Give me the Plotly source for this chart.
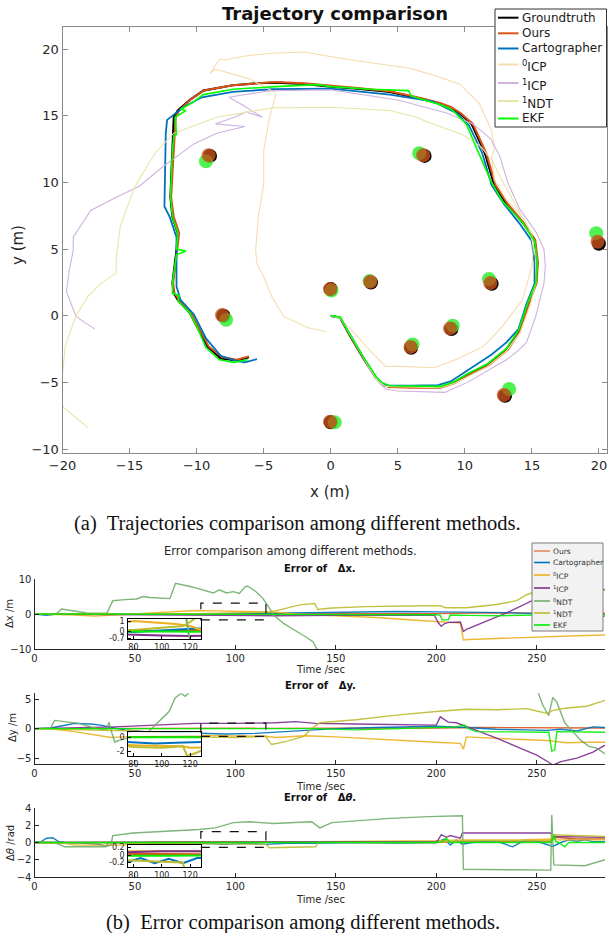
import plotly.graph_objects as go

W, H = 609, 933

# ---------------- trajectories (metres) ----------------
gt_x = [0, 0.7, 1.5, 2.5, 3.4, 3.9, 4.4, 6.0, 8.2, 9.2, 10.2, 11.7, 13.1, 14.0, 14.7, 15.3, 15.4, 15.2, 14.4, 13.1, 12.2, 11.5,
        10.5, 9.6, 8.9, 8.2, 6.7, 4.4, 2.0, 0.0, -2.0, -4.1, -5.5, -7.3, -9.5, -10.5, -11.4, -11.7, -11.8, -11.95, -11.8,
        -11.4, -11.5, -11.8, -11.7, -11.4, -10.5, -9.9, -9.2, -8.2, -7.0, -6.1]
gt_y = [0, -0.15, -1.6, -3.3, -4.7, -5.2, -5.32, -5.35, -5.35, -5.0, -4.4, -3.7, -2.55, -1.2, 0.95, 2.45, 4.0, 5.7, 6.9, 8.4,
        9.8, 12.2, 14.4, 15.2, 15.6, 15.9, 16.3, 16.8, 17.05, 17.2, 17.4, 17.5, 17.45, 17.3, 16.9, 16.2, 15.4, 14.9, 12.4,
        8.9, 7.4, 6.2, 4.9, 2.45, 1.7, 1.2, 0.2, -1.0, -2.3, -3.2, -3.35, -3.1]

ours_x = [0, 0.7, 1.5, 2.5, 3.4, 3.9, 4.4, 6.0, 8.2, 9.25, 10.3, 11.8, 13.2, 14.1, 14.8, 15.35, 15.45, 15.25, 14.45, 13.2,
          12.3, 11.6, 10.6, 9.7, 9.0, 8.2, 6.7, 4.4, 2.0, 0.0, -2.0, -4.1, -5.5, -7.3, -9.5, -10.5, -11.3, -11.55, -11.7,
          -11.9, -11.7, -11.3, -11.45, -11.75, -11.65, -11.3, -10.4, -9.8, -9.1, -8.1, -7.0, -6.1]
ours_y = [0, -0.15, -1.6, -3.3, -4.7, -5.2, -5.35, -5.4, -5.4, -5.05, -4.45, -3.7, -2.55, -1.2, 0.95, 2.45, 4.0, 5.7, 6.9,
          8.4, 9.8, 12.2, 14.4, 15.2, 15.65, 15.95, 16.35, 16.85, 17.1, 17.25, 17.45, 17.55, 17.45, 17.3, 16.9, 16.2, 15.4,
          14.9, 12.4, 8.9, 7.4, 6.2, 4.9, 2.45, 1.7, 1.2, 0.2, -1.0, -2.3, -3.1, -3.3, -3.05]

carto_x = [0, 0.7, 1.6, 2.6, 3.5, 4.1, 6.0, 8.0, 9.0, 10.5, 12.0, 13.1, 14.0, 14.6, 15.2, 15.2, 15.0, 14.1, 12.9, 12.0, 11.3,
           10.3, 9.4, 7.6, 4.4, 0.0, -4.4, -7.3, -9.6, -10.9, -12.2, -12.3, -12.35, -12.4, -12.0, -11.5, -11.5, -11.5,
           -11.2, -10.2, -9.3, -8.2, -7.0, -6.4, -5.5]
carto_y = [0, -0.15, -1.7, -3.4, -4.8, -5.25, -5.25, -5.2, -4.9, -3.9, -2.9, -2.0, -1.0, 0.9, 2.4, 4.0, 5.6, 6.9, 8.4, 9.8,
           12.2, 14.3, 15.2, 16.1, 16.6, 17.05, 17.0, 16.8, 16.4, 15.7, 14.7, 13.7, 10.5, 8.2, 7.4, 5.9, 4.2, 2.2, 1.2, 0.1,
           -1.7, -3.0, -3.4, -3.5, -3.25]

icp0_x = [0, 0.7, 2.0, 3.0, 4.1, 5.2, 7.7, 9.3, 11.4, 12.8, 14.3, 15.0, 15.1, 15.0, 14.3, 13.1, 12.2, 12.0, 12.2, 12.0, 11.1,
          9.6, 7.5, 5.8, 1.5, -2.0, -4.4, -6.4, -7.9, -8.3, -9.0, -8.6, -6.1, -4.2, -4.1, -4.6, -5.0, -5.0, -5.4, -5.6,
          -5.5, -5.0, -4.4, -3.5, -1.7, -0.3]
icp0_y = [0, -0.2, -1.55, -2.7, -3.8, -3.8, -3.9, -3.3, -2.3, -0.8, 1.2, 3.7, 5.0, 6.2, 7.4, 8.7, 10.2, 11.8, 12.7, 13.9,
          15.9, 17.4, 18.1, 18.6, 19.2, 19.8, 19.7, 19.5, 19.2, 19.25, 18.2, 18.5, 17.8, 16.8, 16.6, 14.7, 12.4, 9.9, 7.4,
          4.9, 3.9, 2.95, 1.45, -0.05, -0.9, -1.2]

icp1_x = [0, 0.8, 1.8, 2.9, 3.6, 4.1, 5.0, 7.3, 8.5, 10.2, 11.7, 13.1, 14.0, 14.6, 15.3, 15.9, 16.0, 15.9, 15.3, 14.1, 13.2,
          12.6, 11.9, 10.6, 8.7, 5.0, 0.0, -4.5, -7.6, -6.7, -5.1, -6.3, -7.2, -8.6, -6.4, -8.5, -10.2, -12.5, -14.3,
          -16.0, -17.9, -19.2, -19.2, -19.5, -19.7, -19.0, -17.6]
icp1_y = [0, -0.2, -2.0, -4.0, -5.0, -5.5, -5.65, -5.75, -5.75, -5.0, -4.1, -3.3, -2.6, -2.0, 0.0, 2.45, 3.7, 5.0, 6.3, 8.0,
          10.0, 12.0, 13.3, 14.4, 15.2, 16.2, 16.95, 16.9, 16.4, 15.9, 14.9, 15.3, 14.9, 14.4, 14.2, 13.7, 12.9, 11.2, 9.7,
          8.9, 7.9, 5.9, 4.9, 3.4, 1.8, -0.05, -1.0]

ndt1_x = [0, 0.7, 1.6, 2.6, 3.5, 4.1, 6.0, 8.2, 9.3, 11.7, 13.1, 14.1, 14.9, 15.3, 15.3, 14.8, 13.8, 12.7, 12.0, 11.2, 9.8,
          7.9, 6.9, 7.6, 6.4, 4.4, 0.0, -4.4, -8.5, -11.7, -13.1, -14.6, -15.7, -16.0, -16.0, -17.1, -18.1, -19.0, -19.8,
          -20.1, -20.0, -18.1]
ndt1_y = [0, -0.15, -1.7, -3.4, -4.9, -5.3, -5.35, -5.4, -5.05, -3.8, -2.65, -1.3, 0.9, 2.45, 4.5, 6.5, 8.3, 10.3, 11.7,
          12.7, 13.6, 14.3, 14.65, 14.4, 14.9, 15.4, 15.65, 15.6, 14.9, 13.7, 12.2, 9.7, 6.7, 4.2, 3.2, 2.45, 1.45, 0.0,
          -2.3, -5.5, -6.8, -8.4]

ekf_x = [0, 0.7, 1.5, 2.5, 3.4, 3.8, 4.4, 8.2, 9.2, 10.2, 11.7, 13.1, 14.0, 14.7, 15.3, 15.4, 15.2, 14.3, 12.8, 11.9, 11.0,
         10.1, 9.0, 8.3, 6.6, 6.0, 5.8, 3.0, 0.0, -1.0, -4.1, -7.3, -9.5, -10.3, -11.2, -10.8, -11.6, -11.5, -11.7, -11.8,
         -11.95, -11.8, -11.4, -11.5, -10.8, -11.5, -11.8, -11.8, -11.3, -11.4, -10.5, -9.9, -9.3, -8.3, -7.2, -6.2]
ekf_y = [0, -0.1, -1.5, -3.2, -4.6, -5.0, -5.25, -5.3, -4.95, -4.35, -3.6, -2.45, -1.1, 1.0, 2.5, 4.0, 5.6, 7.0, 8.6, 10.2,
         12.3, 14.4, 15.5, 15.8, 16.3, 16.5, 16.9, 17.0, 17.2, 17.35, 17.2, 17.0, 16.6, 16.0, 15.5, 15.4, 14.9, 13.6, 13.5,
         12.4, 9.0, 7.4, 6.2, 5.0, 4.85, 4.6, 2.45, 1.7, 1.5, 1.1, 0.2, -1.0, -2.4, -3.3, -3.5, -3.3]

# landmarks
lm_gt_x = [-9.0, 7.0, 20.0, -8.0, 0.0, 3.0, 12.0, 9.0, 6.0, 13.0, 0.0]
lm_gt_y = [12.0, 12.0, 5.4, 0.0, 2.0, 2.5, 2.4, -1.0, -2.4, -6.0, -8.0]
lm_ours_x = [-9.1, 6.9, 19.9, -8.1, -0.05, 2.95, 11.9, 8.9, 5.95, 12.9, -0.05]
lm_ours_y = [12.05, 12.05, 5.55, 0.05, 2.0, 2.55, 2.45, -0.95, -2.35, -5.95, -7.95]
lm_ekf_x = [-9.3, 6.6, 19.8, -7.8, 0.05, 2.9, 11.8, 9.1, 6.1, 13.3, 0.3]
lm_ekf_y = [11.6, 12.2, 6.2, -0.3, 1.9, 2.6, 2.75, -0.75, -2.15, -5.5, -8.0]

# ---------------- error curves ----------------
# Δx (m)
ours_dx_t = [0, 20, 50, 80, 100, 130, 160, 200, 215, 230, 250, 284]
ours_dx = [0, 0.05, 0.1, 0.05, 0.0, 0.1, 0.05, 0.1, 0.3, 0.35, 0.2, 0.2]
carto_dx_t = [0, 3, 6, 10, 20, 40, 60, 80, 100, 120, 150, 180, 200, 220, 235, 250, 265, 280, 284]
carto_dx = [0, -0.3, -0.4, -0.1, 0, 0.05, 0.0, -0.1, 0.05, 0.2, 0.5, 0.7, 0.6, 0.6, 0.4, 0.1, -0.2, -0.5, -0.6]
icp0_dx_t = [0, 10, 20, 30, 40, 50, 60, 70, 80, 90, 100, 110, 120, 130, 150, 170, 190, 200, 205, 212, 213.5, 216, 230, 250,
             270, 284]
icp0_dx = [0, -0.1, -0.3, -0.6, -0.3, 0.2, 0.5, 0.8, 1.0, 0.9, 0.8, 0.7, 0.5, 0.0, -0.5, -1.0, -1.8, -2.2, -2.3, -2.6,
           -7.4, -7.3, -7.0, -6.5, -6.2, -6.0]
icp1_dx_t = [0, 20, 40, 60, 80, 100, 120, 150, 180, 199, 201, 202.5, 204, 206, 212, 213.5, 215, 225, 235, 248, 260, 284]
icp1_dx = [0, -0.1, -0.2, -0.3, -0.4, -0.45, -0.5, -0.4, -0.3, -0.3, -2.5, -3.5, -2.8, -2.4, -2.3, -5.0, -4.4, -2.0, 0.3,
           3.9, 5.5, 7.0]
ndt0_dx_t = [0, 11, 13.5, 20, 26, 36, 39, 45, 50.8, 54, 57.5, 67.4, 70.2, 78, 89, 92, 95.6, 99, 102, 104.7, 106, 110, 113.8,
             117, 119, 124, 129, 132, 135, 138.6, 140.4, 142]
ndt0_dx = [0, 0.1, 1.4, 0.9, 0.3, 0.2, 3.8, 4.1, 4.3, 5.0, 4.7, 4.4, 8.8, 7.8, 6.0, 6.9, 6.0, 6.4, 5.9, 7.7, 8.0, 6.5, 4.4,
           1.6, -0.3, -2.7, -4.6, -5.5, -6.5, -7.9, -9.8, -11.0]
ndt1_dx_t = [0, 20, 40, 60, 80, 100, 115, 120, 132, 139.5, 141, 148, 165, 185, 202, 204.5, 215, 230, 240, 245, 250, 265, 284]
ndt1_dx = [0, 0.1, 0.15, 0.1, 0.1, 0.3, 0.5, 0.9, 2.6, 3.0, 1.3, 1.7, 2.1, 2.3, 2.4, 1.8, 1.8, 2.7, 3.8, 5.5, 6.5, 7.0, 6.8]
ekf_dx_t = [0, 50, 100, 150, 200, 202, 203, 206, 207, 215, 230, 250, 284]
ekf_dx = [0, 0, -0.05, -0.1, -0.2, -0.4, -1.7, -1.6, -0.3, -0.4, -0.5, -0.3, -0.2]

# Δy (m)
ours_dy_t = [0, 50, 100, 150, 200, 220, 240, 260, 284]
ours_dy = [0, 0, 0, 0.05, 0.1, 0.2, 0.15, 0.1, 0.1]
carto_dy_t = [0, 8, 14, 20, 28, 33, 38, 45, 55, 65, 80, 95, 110, 120, 135, 150, 170, 200, 215, 230, 245, 255, 262, 270, 278,
              284]
carto_dy = [0, 0.1, 0.5, 0.9, 0.8, 0.6, 0.2, -0.2, -0.5, -0.6, -0.8, -0.9, -0.8, -0.6, -0.3, 0, 0.2, 0.4, 0.2, -0.1, -0.2,
            -0.3, -0.1, -0.4, 0.3, 0.2]
icp0_dy_t = [0, 10, 20, 30, 38, 45, 55, 70, 85, 100, 115, 120, 135, 150, 175, 200, 212, 213.5, 215, 220, 240, 255, 265,
             275, 284]
icp0_dy = [0, -0.1, -0.5, -1.0, -1.5, -1.4, -1.2, -1.1, -1.2, -1.3, -1.3, -1.5, -1.2, -1.4, -1.9, -2.3, -2.5, -3.5, -1.4,
           -1.5, -1.8, -2.0, -2.4, -2.3, -2.3]
icp1_dy_t = [0, 20, 40, 60, 80, 100, 120, 130, 140, 160, 185, 200, 202, 204, 206, 210, 215, 220, 230, 240, 250, 256, 258,
             262, 270, 278, 284]
icp1_dy = [0, 0.1, 0.3, 0.6, 0.9, 0.9, 1.0, 1.2, 0.9, 0.8, 0.7, 0.6, 2.0, 1.5, 1.1, 1.0, 0.4, -0.3, -1.6, -3.0, -4.5,
           -5.7, -6.2, -5.6, -5.0, -4.0, -2.8]
ndt0_dy_t = [0, 8, 10, 16, 22, 29, 32, 36, 37, 38, 40, 42, 49, 55, 61, 67, 70, 73, 75, 77, 79, 250, 253, 256, 258, 260,
             264, 268, 272, 276, 280, 284]
ndt0_dy = [0, 0.1, 1.4, 1.1, 0.9, 0.2, 0.0, -0.3, 1.1, -0.2, -2.3, -2.0, -1.4, -1.1, 0.9, 2.9, 5.2, 6.0, 5.5, 6.1, 6.8,
           6.8, 4.0, 2.2, 5.3, 4.5, 1.0, -0.5, -2.0, -3.0, -3.3, -4.3]
ndt1_dy_t = [0, 50, 80, 100, 115, 118, 125, 134, 138, 142, 160, 180, 200, 215, 230, 245, 250, 255, 258, 265, 275, 284]
ndt1_dy = [0, -0.4, -1.4, -1.5, -1.3, -2.7, -2.2, -1.3, 0.0, 1.0, 1.5, 2.3, 2.9, 3.3, 3.2, 3.4, 3.0, 2.6, 3.1, 3.5, 3.8, 4.8]
ekf_dy_t = [0, 100, 140, 160, 200, 210, 214, 216, 220, 240, 256, 257.5, 259, 260, 270, 284]
ekf_dy = [0, 0, 0, -0.2, 0.2, 0.3, 0.6, 0.0, -0.5, -0.5, -0.6, -3.8, -3.6, -0.5, -0.5, -0.6]

# Δθ (rad)
ours_dth_t = [0, 50, 100, 150, 200, 213, 240, 257, 259, 270, 284]
ours_dth = [0, 0.03, 0.03, 0.02, 0, 0.1, 0.1, 0.1, 0.6, 0.4, 0.4]
carto_dth_t = [0, 3, 6, 9, 12, 15, 25, 32, 35.6, 37, 45, 55, 65, 75, 85, 95, 105, 115, 125, 140, 160, 180, 200, 204, 207,
               210, 213, 218, 225, 232, 238, 242, 246, 252, 258, 262, 266, 270, 274, 278, 284]
carto_dth = [0, 0.05, 0.5, 0.55, 0.1, 0, -0.1, -0.2, -0.45, 0, -0.1, -0.2, -0.05, -0.2, -0.08, -0.22, -0.1, -0.22, -0.08,
             -0.1, 0, -0.05, 0, 0.4, -0.3, 0.3, -0.2, 0, 0.1, 0, -0.5, 0, 0.3, 0, -0.45, 0, 0.3, 0.15, 0.3, 0.1, 0.1]
icp0_dth_t = [0, 15, 20, 45, 50, 60, 100, 140, 200, 213, 240, 258, 260, 284]
icp0_dth = [0, -0.1, -0.3, -0.3, -0.1, 0.1, 0.1, 0.1, 0.2, 0.3, 0.3, 0.4, 0.3, 0.3]
icp1_dth_t = [0, 50, 100, 150, 200, 201, 202.5, 205, 207, 212, 213, 257, 258, 284]
icp1_dth = [0, 0.05, 0.1, 0.1, 0.1, 0.3, 0.9, 0.6, 0.8, 0.5, 1.1, 1.1, 0.7, 0.6]
ndt0_dth_t = [0, 10, 15, 35, 38, 39, 49, 65, 82, 90, 99, 107, 119, 138, 142, 148, 177, 196, 213, 213.5, 239, 257, 257.5,
              258.5, 274, 284]
ndt0_dth = [0, 0, -0.5, -0.5, -0.3, 0.8, 1.1, 1.3, 1.5, 1.7, 2.3, 2.4, 2.2, 2.4, 1.7, 2.3, 2.8, 3.0, 3.1, -3.1, -3.2, -3.2,
            3.2, -2.6, -2.7, -2.0]
ndt1_dth_t = [0, 50, 100, 115, 117, 140, 141, 200, 213, 257, 258, 284]
ndt1_dth = [0, -0.1, -0.18, -0.2, -0.6, -0.5, 0, 0, 0.2, 0.2, 0.9, 0.7]
ekf_dth_t = [0, 100, 200, 203, 205, 207, 210, 257, 258.5, 259.5, 261, 264, 266, 284]
ekf_dth = [0, -0.02, 0, 0.1, 0.5, 0, 0, 0, 0.9, 0.1, 0, -0.5, 0, 0]

# ---------------- styling ----------------
FONT = "DejaVu Sans"
SERIF = "Liberation Serif"
C_OURS, C_CARTO, C_ICP0, C_ICP1 = "#D95319", "#0072BD", "#EDB120", "#7E2F8E"
C_NDT0, C_NDT1, C_EKF = "#6fae6a", "#bdbb2e", "#00ee00"
T_ICP0, T_ICP1, T_NDT1 = "#f6dcae", "#cfb2de", "#e8e6a8"


def fx(p):
    return p / W


def fy(p):
    return 1 - p / H


fig = go.Figure()

# trajectory plot
traj = [
    (gt_x, gt_y, "#000000", 2.2),
    (ours_x, ours_y, C_OURS, 2.0),
    (carto_x, carto_y, C_CARTO, 1.8),
    (icp0_x, icp0_y, T_ICP0, 1.1),
    (icp1_x, icp1_y, T_ICP1, 1.1),
    (ndt1_x, ndt1_y, T_NDT1, 1.1),
    (ekf_x, ekf_y, "#00ff00", 1.6),
]
for xs, ys, col, w in traj:
    fig.add_trace(go.Scatter(x=xs, y=ys, mode="lines", line=dict(color=col, width=w),
                             xaxis="x", yaxis="y", showlegend=False))
fig.add_trace(go.Scatter(x=lm_gt_x, y=lm_gt_y, mode="markers", xaxis="x", yaxis="y", showlegend=False,
                         marker=dict(size=14, color="#000000", line=dict(width=0))))
fig.add_trace(go.Scatter(x=lm_ekf_x, y=lm_ekf_y, mode="markers", xaxis="x", yaxis="y", showlegend=False,
                         marker=dict(size=14, color="#33ee33", opacity=0.85, line=dict(width=0))))
fig.add_trace(go.Scatter(x=lm_ours_x, y=lm_ours_y, mode="markers", xaxis="x", yaxis="y", showlegend=False,
                         marker=dict(size=14, color="#c8501c", opacity=0.8, line=dict(width=0))))

# error plots: (main axis id, inset axis id, series)
panels = [
    ("2", "5", [(ours_dx_t, ours_dx, C_OURS), (carto_dx_t, carto_dx, C_CARTO), (icp0_dx_t, icp0_dx, C_ICP0),
                (icp1_dx_t, icp1_dx, C_ICP1), (ndt0_dx_t, ndt0_dx, C_NDT0), (ndt1_dx_t, ndt1_dx, C_NDT1),
                (ekf_dx_t, ekf_dx, C_EKF)]),
    ("3", "6", [(ours_dy_t, ours_dy, C_OURS), (carto_dy_t, carto_dy, C_CARTO), (icp0_dy_t, icp0_dy, C_ICP0),
                (icp1_dy_t, icp1_dy, C_ICP1), (ndt0_dy_t, ndt0_dy, C_NDT0), (ndt1_dy_t, ndt1_dy, C_NDT1),
                (ekf_dy_t, ekf_dy, C_EKF)]),
    ("4", "7", [(ours_dth_t, ours_dth, C_OURS), (carto_dth_t, carto_dth, C_CARTO), (icp0_dth_t, icp0_dth, C_ICP0),
                (icp1_dth_t, icp1_dth, C_ICP1), (ndt0_dth_t, ndt0_dth, C_NDT0), (ndt1_dth_t, ndt1_dth, C_NDT1),
                (ekf_dth_t, ekf_dth, C_EKF)]),
]
for main_id, inset_id, series in panels:
    for t, v, col in series:
        fig.add_trace(go.Scatter(x=t, y=v, mode="lines", line=dict(color=col, width=1.4), opacity=0.9,
                                 xaxis="x" + main_id, yaxis="y" + main_id, showlegend=False))
    for t, v, col in series:
        fig.add_trace(go.Scatter(x=t, y=v, mode="lines", line=dict(color=col, width=2.0),
                                 xaxis="x" + inset_id, yaxis="y" + inset_id, showlegend=False))

# ---------------- axes ----------------
top_axis = dict(showline=True, linecolor="#8a8a8a", linewidth=1, mirror="ticks", ticks="inside", ticklen=5,
                tickcolor="#8a8a8a", showgrid=False, zeroline=False, automargin=False,
                tickfont=dict(family=FONT, size=13, color="#262626"))
layout_axes = dict(
    xaxis=dict(top_axis, domain=[fx(62.5), fx(607)], range=[-20, 20.6], tickvals=list(range(-20, 21, 5)),
               anchor="y"),
    yaxis=dict(top_axis, domain=[fy(453), fy(27.3)], range=[-10.3, 21.65], tickvals=list(range(-10, 21, 5)),
               anchor="x"),
)

bot_x = dict(showline=True, linecolor="#262626", linewidth=1.2, ticks="inside", ticklen=4, tickcolor="#262626",
             showgrid=False, zeroline=False, automargin=False, tickfont=dict(family=FONT, size=10, color="#262626"),
             domain=[fx(34.5), fx(605)], range=[0, 284], tickvals=[0, 50, 100, 150, 200, 250])
bot_y = dict(showline=True, linecolor="#262626", linewidth=1.2, ticks="inside", ticklen=4, tickcolor="#262626",
             showgrid=False, zeroline=False, automargin=False, tickfont=dict(family=FONT, size=10, color="#262626"))
main_specs = [("2", [fy(649), fy(579)], [-10, 10], [-10, 0, 10]),
              ("3", [fy(764), fy(693.3)], [-6, 6], [-5, 0, 5]),
              ("4", [fy(877), fy(808)], [-4, 4], [-4, -2, 0, 2, 4])]
for aid, dom, rng, tv in main_specs:
    layout_axes["xaxis" + aid] = dict(bot_x, anchor="y" + aid)
    layout_axes["yaxis" + aid] = dict(bot_y, domain=dom, range=rng, tickvals=tv, anchor="x" + aid)

inset_ax = dict(showline=True, linecolor="#000000", linewidth=1.4, mirror=True, ticks="inside", ticklen=3,
                tickcolor="#000000", showgrid=False, zeroline=False, automargin=False,
                tickfont=dict(family=FONT, size=8, color="#262626"))
inset_specs = [("5", [fy(639), fy(619)], [-0.8, 1.2], [-0.7, 0, 1], ["-0.7", "0", "1"]),
               ("6", [fy(756), fy(732.3)], [-2.7, 0.7], [-2, 0], ["-2", "0"]),
               ("7", [fy(867), fy(845)], [-0.32, 0.27], [-0.2, 0, 0.2], ["-0.2", "0", "0.2"])]
for aid, dom, rng, tv, tt in inset_specs:
    layout_axes["xaxis" + aid] = dict(inset_ax, domain=[fx(127.5), fx(201)], range=[75.8, 127.7],
                                      tickvals=[80, 100, 120], anchor="y" + aid)
    layout_axes["yaxis" + aid] = dict(inset_ax, domain=dom, range=rng, tickvals=tv, ticktext=tt, anchor="x" + aid)

# ---------------- shapes ----------------
shapes = []
# dashed zoom windows
for aid, y0, y1 in [("2", -1.7, 3.1), ("3", -1.3, 0.95), ("4", -0.57, 1.26)]:
    shapes.append(dict(type="rect", xref="x" + aid, yref="y" + aid, x0=82.8, x1=115.2, y0=y0, y1=y1,
                       line=dict(color="#111111", width=1.2, dash="dash")))

annotations = []


def text(x, y, s, size, family=FONT, color="#262626", bold=False, angle=0, xanchor="center"):
    annotations.append(dict(xref="paper", yref="paper", x=fx(x), y=fy(y), text=("<b>%s</b>" % s) if bold else s,
                            showarrow=False, font=dict(family=family, size=size, color=color), textangle=angle,
                            xanchor=xanchor, yanchor="middle"))


# top legend
shapes.append(dict(type="rect", xref="paper", yref="paper", x0=fx(495), x1=fx(606.5), y0=fy(127), y1=fy(9),
                   line=dict(color="#333333", width=1), fillcolor="#ffffff", layer="above"))
top_leg = [("Groundtruth", "#000000", 17.7), ("Ours", C_OURS, 33.3), ("Cartographer", C_CARTO, 48.5),
           ("<sup>0</sup>ICP", T_ICP0, 64.5), ("<sup>1</sup>ICP", T_ICP1, 83), ("<sup>1</sup>NDT", T_NDT1, 101),
           ("EKF", "#00ff00", 118.5)]
for lab, col, yy in top_leg:
    shapes.append(dict(type="line", xref="paper", yref="paper", x0=fx(498), x1=fx(518.5), y0=fy(yy), y1=fy(yy),
                       line=dict(color=col, width=2), layer="above"))
    yt = yy + 1.5 if "sup" in lab else yy
    text(519.5, yt, lab, 12, xanchor="left", color="#1a1a1a")

# bottom legend
shapes.append(dict(type="rect", xref="paper", yref="paper", x0=fx(532), x1=fx(603), y0=fy(631), y1=fy(543),
                   line=dict(color="#7a7a7a", width=1), fillcolor="#f2f2f2", layer="above"))
bot_leg = [("Ours", "#e58a63", 551), ("Cartographer", C_CARTO, 562.5), ("<sup>0</sup>ICP", C_ICP0, 575),
           ("<sup>1</sup>ICP", C_ICP1, 588), ("<sup>0</sup>NDT", C_NDT0, 601), ("<sup>1</sup>NDT", C_NDT1, 613),
           ("EKF", C_EKF, 625)]
for lab, col, yy in bot_leg:
    shapes.append(dict(type="line", xref="paper", yref="paper", x0=fx(534), x1=fx(550), y0=fy(yy), y1=fy(yy),
                       line=dict(color=col, width=1.6), layer="above"))
    yt = yy + 1 if "sup" in lab else yy
    text(551, yt, lab, 7.5, xanchor="left", color="#333333")

# titles and labels
text(335, 14, "Trajectory comparison", 18, color="#111111", bold=True)
text(330, 492, "x (m)", 15)
text(18, 245, "y (m)", 15, angle=-90)
text(297.5, 523, "(a)\u00a0 Trajectories comparison among different methods.", 20.5, family=SERIF, color="#111111")

text(290, 551, "Error comparison among different methods.", 11.5)
for yy, s in [(568, "Error of \u00a0\u00a0Δx."), (685, "Error of \u00a0\u00a0Δy."), (797, "Error of \u00a0\u00a0Δ<i>θ</i>.")]:
    text(320, yy, s, 10, color="#111111", bold=True)
for yy in [669, 786, 899]:
    text(320, yy, "Time /sec", 10)
text(9, 614, "Δx /m", 10, angle=-90)
text(12, 728, "Δy /m", 10, angle=-90)
text(10, 843, "Δ<i>θ</i> /rad", 10, angle=-90)
text(303, 922, "(b)\u00a0 Error comparison among different methods.", 20.5, family=SERIF, color="#111111")

fig.update_layout(width=W, height=H, margin=dict(l=0, r=0, t=0, b=0, autoexpand=False), paper_bgcolor="#ffffff",
                  plot_bgcolor="#ffffff", showlegend=False, shapes=shapes, annotations=annotations, **layout_axes)

fig.write_html("out.html")
